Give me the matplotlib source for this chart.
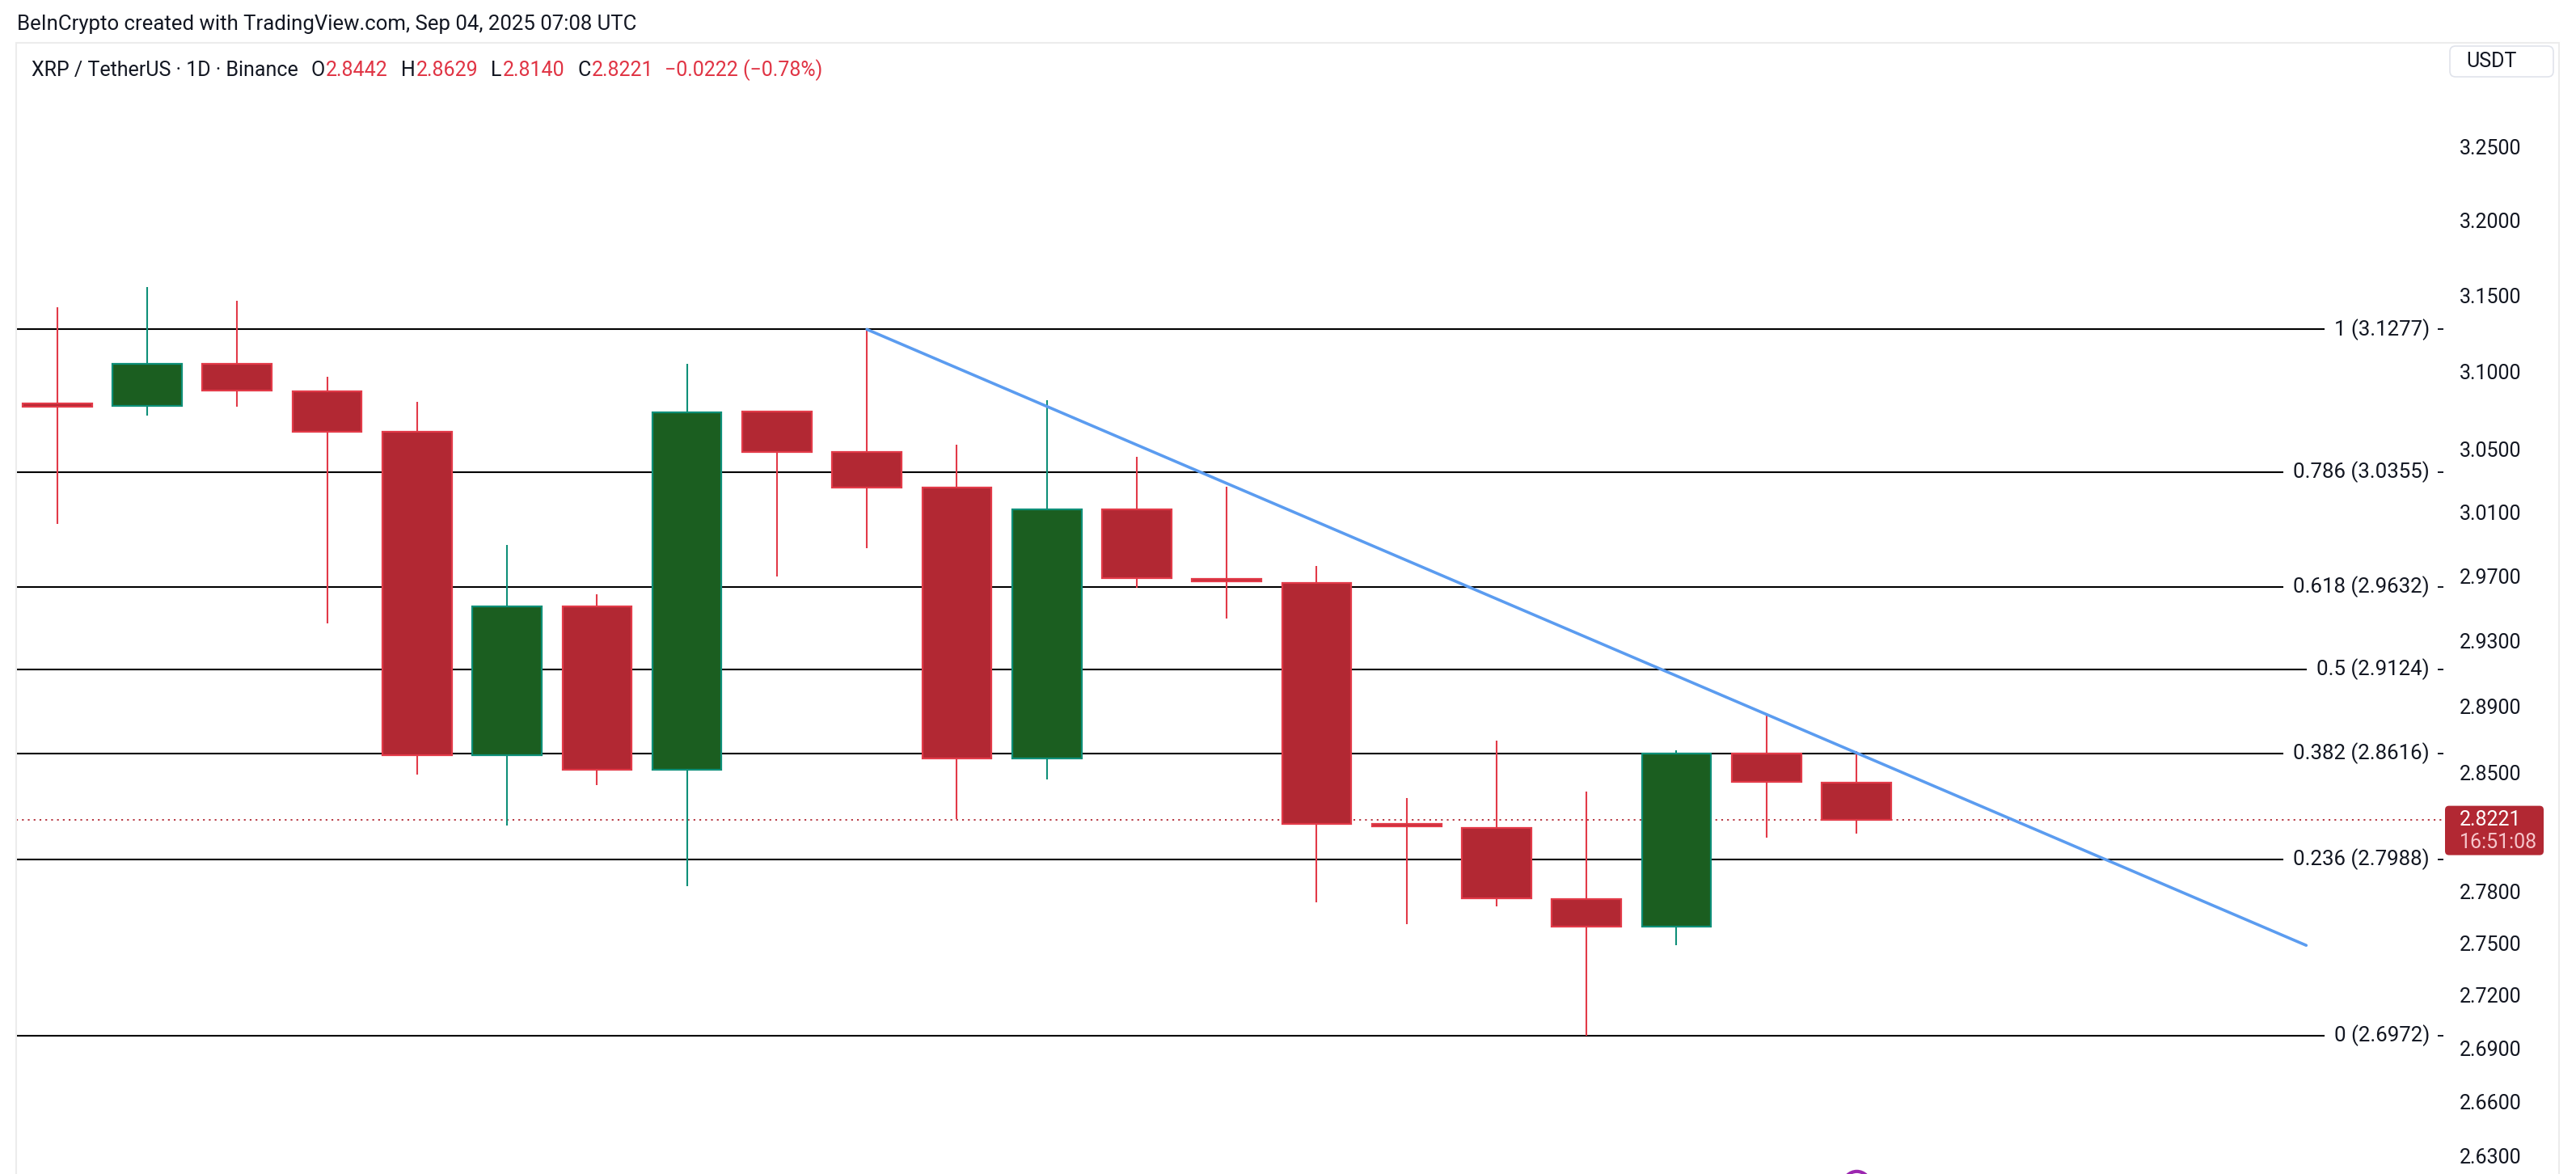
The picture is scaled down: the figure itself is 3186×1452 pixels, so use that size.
import matplotlib
matplotlib.use("Agg")
import matplotlib.pyplot as plt
import matplotlib.transforms as mtransforms
from matplotlib.patches import Rectangle, FancyBboxPatch
from matplotlib.ticker import FixedLocator, FormatStrFormatter, NullFormatter

plt.rcParams['font.family'] = ['Roboto', 'DejaVu Sans']

# daily XRP/USDT candles
opens = [3.0795, 3.0778, 3.1050, 3.0872, 3.0611, 2.8606, 2.9509, 2.8519, 3.0741, 3.0482, 3.0257,
         2.8585, 3.0116, 2.9684, 2.9656, 2.8195, 2.8173, 2.7753, 2.7594, 2.8616, 2.8442]
highs = [3.1423, 3.1557, 3.1466, 3.0966, 3.0807, 2.9896, 2.9588, 3.1053, 3.0750, 3.1277, 3.0530,
         3.0813, 3.0453, 3.0263, 2.9763, 2.8350, 2.8691, 2.8386, 2.8634, 2.8859, 2.8629]
lows = [3.0027, 3.0716, 3.0775, 2.9406, 2.8488, 2.8185, 2.8425, 2.7829, 2.9697, 2.9874, 2.8224,
        2.8458, 2.9625, 2.9434, 2.7735, 2.7609, 2.7711, 2.6972, 2.7486, 2.8114, 2.8140]
closes = [3.0775, 3.1050, 3.0876, 3.0615, 2.8606, 2.9509, 2.8519, 3.0738, 3.0482, 3.0257, 2.8585,
          3.0116, 2.9688, 2.9665, 2.8197, 2.8180, 2.7758, 2.7594, 2.8616, 2.8443, 2.8221]

fib_levels = ['1', '0.786', '0.618', '0.5', '0.382', '0.236', '0']
fib_prices = [3.1277, 3.0355, 2.9632, 2.9124, 2.8616, 2.7988, 2.6972]
price_ticks = [3.25, 3.20, 3.15, 3.10, 3.05, 3.01, 2.97, 2.93, 2.89, 2.85,
               2.78, 2.75, 2.72, 2.69, 2.66, 2.63]

trend_x = [9, 25]
trend_y = [3.1277, 2.7486]

last_price = 2.8221
countdown = '16:51:08'
event_x = [20]

header = 'BeInCrypto created with TradingView.com, Sep 04, 2025 07:08 UTC'
ticker = 'XRP / TetherUS · 1D · Binance'
ohlc_labels = ['O', 'H', 'L', 'C']
ohlc_values = ['2.8442', '2.8629', '2.8140', '2.8221']
change = '−0.0222 (−0.78%)'

DARK = '#131722'
RED_FILL = '#b22833'
RED_EDGE = '#e23a48'
GREEN_FILL = '#1b5e20'
GREEN_EDGE = '#0e8f78'

W, H = 3186, 1452
fig = plt.figure(figsize=(W / 100, H / 100), dpi=100)
fig.patch.set_facecolor('white')
ax = fig.add_axes([20 / W, 0, (3022 - 20) / W, 1 - 55 / H])
ax.set_yscale('log')
ax.set_xlim(-0.4566, 26.525)
ax.set_ylim(2.6199, 3.3203)

for s in ax.spines.values():
    s.set_visible(False)
ax.xaxis.set_visible(False)
ax.yaxis.tick_right()
ax.yaxis.set_major_locator(FixedLocator(price_ticks))
ax.yaxis.set_major_formatter(FormatStrFormatter('%.4f'))
ax.yaxis.set_minor_locator(FixedLocator(fib_prices))
ax.yaxis.set_minor_formatter(NullFormatter())
ax.tick_params(axis='y', which='major', length=0, pad=14.4, labelsize=18, labelcolor=DARK)
ax.tick_params(axis='y', which='minor', length=5, width=1.4, direction='in', color=DARK)

# candles
bw = 0.77
for i, (o, h, l, c) in enumerate(zip(opens, highs, lows, closes)):
    up = c > o
    fill = GREEN_FILL if up else RED_FILL
    edge = GREEN_EDGE if up else RED_EDGE
    ax.vlines(i, l, h, color=edge, lw=1.5, zorder=3)
    ax.add_patch(Rectangle((i - bw / 2, min(o, c)), bw, abs(c - o),
                           facecolor=fill, edgecolor=edge, lw=1.6, zorder=4))

# trend line
ax.plot(trend_x, trend_y, color='#5b9cf0', lw=2.6, solid_capstyle='round', zorder=5)

# last price dotted line
ax.axhline(last_price, color=RED_FILL, lw=1.3, ls=(0, (1.2, 2.8)), zorder=2)

# event marker at bottom
ax.plot(event_x, [2.6142] * len(event_x), 'o', ms=24, mfc='white', mec='#9c27b0', mew=3,
        zorder=6, clip_on=True)

# fib labels and lines
trans = mtransforms.blended_transform_factory(ax.transAxes, ax.transData)
x_right = (3005 - 20) / (3022 - 20)
fib_texts = []
for lev, p in zip(fib_levels, fib_prices):
    t = ax.text(x_right, p, f'{lev} ({p:.4f})', transform=trans, ha='right', va='center',
                fontsize=18.6, color=DARK)
    fib_texts.append(t)

# header texts
fig.text(21 / W, 1 - 30 / H, header, fontsize=18.5, color=DARK, va='center')

renderer = fig.canvas.get_renderer()
x = 39
y_tick = H - 87
parts = [(ticker, DARK, 0)]
for lab, val in zip(ohlc_labels, ohlc_values):
    parts.append((lab, DARK, 16))
    parts.append((val, '#e03444', 1))
parts.append((change, '#e03444', 14))
for txt, col, gap in parts:
    x += gap
    t = fig.text(x / W, y_tick / H, txt, fontsize=18, color=col, va='center')
    x = t.get_window_extent(renderer).x1

for t, p in zip(fib_texts, fib_prices):
    bb = t.get_window_extent(renderer)
    frac = ax.transAxes.inverted().transform((bb.x0 - 13, 0))[0]
    ax.axhline(p, 0, frac, color='black', lw=1.5, zorder=2)

# last price box on the scale
pix = mtransforms.IdentityTransform()
yd = ax.transData.transform((0, last_price))[1]
fig.add_artist(FancyBboxPatch((3024, yd - 44), 122, 61, boxstyle='round,pad=0,rounding_size=5',
                              facecolor=RED_FILL, edgecolor='none', transform=pix, zorder=5))
fig.text(3042, yd, f'{last_price:.4f}', transform=pix, va='center', ha='left',
         color='white', fontsize=18, zorder=6)
fig.text(3042, yd - 28, countdown, transform=pix, va='center', ha='left',
         color='#f6c6cb', fontsize=18, zorder=6)

# USDT box
fig.add_artist(FancyBboxPatch((3030, H - 95), 128, 38, boxstyle='round,pad=0,rounding_size=7',
                              facecolor='white', edgecolor='#e0e3eb', lw=1.2, transform=pix))
fig.text(3081 / W, 1 - 76 / H, 'USDT', fontsize=18, color=DARK, ha='center', va='center')

# panel border
fig.add_artist(Rectangle((20 / W, -0.01), (3165 - 20) / W, 1.01 - 53 / H, transform=fig.transFigure,
                         facecolor='none', edgecolor='#ececec', lw=1.5))

fig.savefig('out.png', dpi=100, facecolor='white')
